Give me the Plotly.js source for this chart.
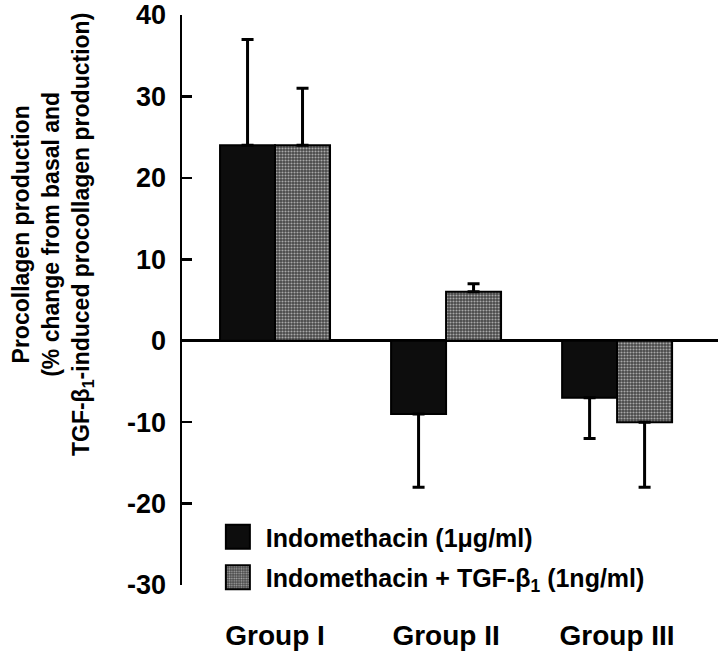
<!DOCTYPE html>
<html>
<head>
<meta charset="utf-8">
<script src="https://cdn.plot.ly/plotly-3.0.1.min.js"></script>
<style>html,body{margin:0;padding:0;background:#fff;}</style>
</head>
<body>
<div id="chart" style="width:720px;height:655px;"></div>
<script>
// Data
const groups = ["Group I", "Group II", "Group III"];
const indoValues = [24, -9, -7];
const indoErrors = [13, 9, 5];
const indoTgfValues = [24, 6, -10];
const indoTgfErrors = [7, 1, 8];
const seriesNames = ["Indomethacin (1\u03bcg/ml)", "Indomethacin + TGF-\u03b2<sub>1</sub> (1ng/ml)"];
const yTicks = [-30, -20, -10, 0, 10, 20, 30, 40];

function upErr(vals, errs) { return vals.map((v, i) => v >= 0 ? errs[i] : 0); }
function downErr(vals, errs) { return vals.map((v, i) => v < 0 ? errs[i] : 0); }

const FONT = "Liberation Sans, Arial, Helvetica, sans-serif";

const traces = [
  {
    type: "bar", name: seriesNames[0], x: groups, y: indoValues, legendgroup: "a",
    marker: { color: "#0d0d0d", line: { color: "#000", width: 2 } },
    error_y: { type: "data", symmetric: false, array: upErr(indoValues, indoErrors),
               arrayminus: downErr(indoValues, indoErrors), color: "#000", thickness: 3, width: 6 }
  },
  {
    type: "bar", name: seriesNames[1], x: groups, y: indoTgfValues, legendgroup: "b",
    marker: { color: "#6a6a6a", line: { color: "#000", width: 2 },
              pattern: { shape: ".", size: 3, solidity: 0.4, fgcolor: "#a8a8a8", bgcolor: "#474747" } },
    error_y: { type: "data", symmetric: false, array: upErr(indoTgfValues, indoTgfErrors),
               arrayminus: downErr(indoTgfValues, indoTgfErrors), color: "#000", thickness: 3, width: 6 }
  }
];

const layout = {
  width: 720, height: 655,
  margin: { l: 182, r: 2, t: 15, b: 70 },
  paper_bgcolor: "#fff", plot_bgcolor: "#fff",
  font: { family: FONT, color: "#000", weight: "bold" },
  barmode: "group", bargap: 0.357, bargroupgap: 0,
  showlegend: true,
  legend: {
    x: 0.052, y: 0.1245, xanchor: "left", yanchor: "top",
    bgcolor: "rgba(0,0,0,0)", font: { size: 25, family: FONT, weight: "bold" },
    itemwidth: 46, tracegroupgap: 5, traceorder: "grouped"
  },
  xaxis: {
    type: "category", range: [-0.544, 2.59], showline: false, ticks: "",
    showgrid: false, zeroline: false,
    tickfont: { size: 28, family: FONT, weight: "bold" }, ticklabelstandoff: 31
  },
  yaxis: {
    range: [-30, 40], tickvals: yTicks, ticktext: yTicks.map(String),
    showline: true, linecolor: "#000", linewidth: 2.5,
    ticks: "inside", ticklen: 10, tickwidth: 2.5, tickcolor: "#000",
    showgrid: false, zeroline: true, zerolinecolor: "#000", zerolinewidth: 2.5,
    tickfont: { size: 27, family: FONT, weight: "bold" }, ticklabelstandoff: 8
  },
  annotations: [{
    xref: "paper", yref: "paper", x: -0.2425, y: 0.614, xanchor: "center", yanchor: "middle",
    textangle: -90, showarrow: false,
    text: "Procollagen production<br>(% change from basal and<br>TGF-\u03b2<sub>1</sub>-induced procollagen production)",
    font: { size: 23, family: FONT, weight: "bold", color: "#000" }
  }]
};

Plotly.newPlot("chart", traces, layout, { displayModeBar: false, staticPlot: true }).then(function (gd) {
  // enlarge legend swatches to match the reference's big squares
  gd.querySelectorAll(".legend .legendpoints path").forEach(function (p) {
    p.setAttribute("d", "M12,12H-12V-12H12Z");
  });
});
</script>
</body>
</html>
